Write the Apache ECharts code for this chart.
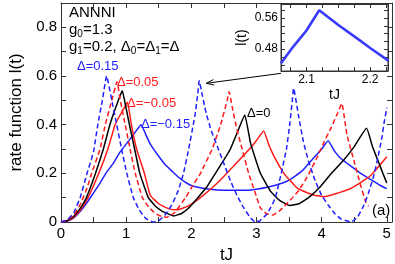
<!DOCTYPE html>
<html>
<head>
<meta charset="utf-8">
<script src="https://cdn.jsdelivr.net/npm/echarts@6/dist/echarts.min.js"></script>
<style>
html,body{margin:0;padding:0;background:#fff;}
#c{width:395px;height:264px;}
</style>
</head>
<body>
<div id="c"></div>
<script>
// ---- data ----
const xTicks = [0, 1, 2, 3, 4, 5];
const yTicks = [0, 0.2, 0.4, 0.6, 0.8];

// Delta = 0.15 (blue dashed)
const tBD = [0,0.1,0.2,0.3,0.4,0.5,0.565,0.635,0.70,0.78,0.855,0.93,1.01,1.11,1.2,1.3,1.42,1.5,1.6,1.7,1.8,1.88,1.96,2.03,2.06,2.08,2.1,2.12,2.16,2.2,2.23,2.3,2.4,2.5,2.6,2.7,2.8,2.9,2.98,3.05,3.15,3.22,3.29,3.38,3.46,3.51,3.55,3.57,3.65,3.72,3.8,3.9,4.0,4.1,4.2,4.3,4.45,4.55,4.65,4.72,4.8,4.86,4.92,4.96,5.0];
const vBD = [0,0.01,0.04,0.105,0.2,0.29,0.4,0.5,0.6,0.5,0.4,0.3,0.2,0.1,0.05,0.015,0,0.005,0.03,0.07,0.13,0.2,0.3,0.4,0.444,0.486,0.528,0.58,0.533,0.481,0.445,0.38,0.31,0.24,0.17,0.11,0.06,0.02,0,0.005,0.03,0.06,0.1,0.2,0.3,0.4,0.5,0.55,0.43,0.33,0.25,0.17,0.11,0.07,0.035,0.012,0,0.02,0.07,0.12,0.19,0.26,0.34,0.41,0.47];

// Delta = 0.05 (red dashed)
const tRD = [0,0.1,0.2,0.3,0.4,0.47,0.6,0.68,0.78,0.86,0.91,0.985,1.06,1.14,1.25,1.35,1.45,1.55,1.63,1.75,1.91,2.0,2.14,2.32,2.45,2.55,2.58,2.63,2.7,2.78,2.88,2.98,3.06,3.15,3.24,3.35,3.52,3.65,3.78,3.92,4.04,4.15,4.25,4.31,4.39,4.5,4.6,4.68,4.72];
const vRD = [0,0.008,0.03,0.075,0.14,0.2,0.3,0.4,0.5,0.576,0.5,0.4,0.3,0.2,0.1,0.06,0.035,0.022,0.02,0.04,0.1,0.14,0.2,0.3,0.4,0.5,0.535,0.47,0.38,0.3,0.2,0.12,0.058,0.035,0.028,0.045,0.09,0.13,0.186,0.26,0.33,0.39,0.45,0.487,0.357,0.248,0.15,0.08,0.065];

// Delta = 0 (black)
const tK = [0,0.1,0.2,0.3,0.39,0.53,0.65,0.75,0.88,0.94,0.975,1.05,1.13,1.21,1.34,1.45,1.55,1.63,1.73,1.85,1.98,2.1,2.24,2.37,2.5,2.6,2.7,2.82,2.91,3.06,3.22,3.35,3.51,3.65,3.8,3.98,4.15,4.34,4.5,4.69,4.78,4.86,4.94,5.0];
const vK = [0,0.006,0.025,0.058,0.1,0.2,0.3,0.4,0.5,0.539,0.5,0.4,0.3,0.2,0.1,0.065,0.045,0.035,0.025,0.035,0.063,0.1,0.145,0.2,0.255,0.3,0.364,0.44,0.323,0.2,0.125,0.09,0.068,0.075,0.1,0.145,0.2,0.255,0.31,0.385,0.31,0.255,0.2,0.16];

// Delta = -0.05 (red solid)
const tR = [0,0.1,0.2,0.3,0.415,0.58,0.72,0.83,0.93,1.02,1.08,1.16,1.28,1.37,1.5,1.65,1.78,1.95,2.14,2.4,2.65,2.91,3.0,3.11,3.2,3.27,3.42,3.63,3.88,4.04,4.2,4.45,4.75,5.0];
const vR = [0,0.005,0.02,0.05,0.1,0.2,0.3,0.4,0.45,0.492,0.4,0.3,0.2,0.11,0.075,0.055,0.05,0.065,0.1,0.16,0.23,0.305,0.335,0.374,0.31,0.27,0.2,0.138,0.11,0.104,0.115,0.138,0.19,0.268];

// Delta = -0.15 (blue solid)
const tB = [0,0.1,0.2,0.3,0.4,0.5,0.6,0.7,0.8,0.9,1.0,1.1,1.23,1.3,1.37,1.5,1.6,1.7,1.8,1.9,2.0,2.2,2.4,2.6,2.8,3.0,3.2,3.4,3.5,3.6,3.7,3.8,3.9,4.0,4.1,4.2,4.3,4.45,4.6,4.75,4.9,5.0];
const vB = [0,0.004,0.018,0.045,0.08,0.12,0.16,0.205,0.24,0.285,0.32,0.355,0.40,0.36,0.32,0.27,0.235,0.21,0.185,0.165,0.15,0.138,0.132,0.13,0.13,0.135,0.145,0.16,0.172,0.19,0.21,0.24,0.27,0.30,0.334,0.29,0.26,0.23,0.2,0.175,0.15,0.137];

// inset (zoom on the Delta = 0.15 cusp)
const tIn = [2.06,2.079,2.1,2.12,2.15,2.18,2.2,2.229];
const vIn = [0.444,0.486,0.528,0.58,0.542,0.507,0.483,0.45];
const inXTicks = [2.1, 2.2];
const inYTicks = [0.48, 0.56];

// ---- chart ----
const pair = (t, v) => t.map((x, i) => [x, v[i]]);
const FONT = 'Liberation Sans, Arial, Helvetica, sans-serif';
const AX = '#333';
const chart = echarts.init(document.getElementById('c'), null, {renderer: 'canvas'});

function range(a, b, s) { const r = []; for (let x = a; x <= b + 1e-9; x += s) r.push(+x.toFixed(4)); return r; }

const mainXMinor = range(0, 5, 0.5);
const mainYMinor = range(0, 0.9, 0.1);
const inXMinor = range(2.075, 2.225, 0.025);
const inYMinor = range(0.44, 0.58, 0.02);

const lineSeries = (data, color, dashed, name) => ({
  type: 'line', name, data, xAxisIndex: 0, yAxisIndex: 0,
  showSymbol: false, smooth: 0.12, z: 3,
  lineStyle: {color, width: 1.5, type: dashed ? [5, 3] : 'solid'},
  animation: false
});

const option = {
  animation: false,
  backgroundColor: '#fff',
  grid: [
    {left: 61, right: 3, top: 3, bottom: 42, show: false, outerBoundsMode: 'none', containLabel: false},
    {left: 281, width: 107, top: 4, height: 67, show: true, backgroundColor: '#fff', borderColor: AX, borderWidth: 1, z: 10, outerBoundsMode: 'none', containLabel: false}
  ],
  xAxis: [
    {gridIndex: 0, type: 'value', min: 0, max: 5.08, position: 'bottom',
     axisLine: {show: true, onZero: false, lineStyle: {color: AX, width: 1}},
     axisTick: {show: true, inside: true, length: 5, customValues: mainXMinor, lineStyle: {color: AX}},
     axisLabel: {customValues: xTicks, color: '#000', fontFamily: FONT, fontSize: 15, margin: 4, formatter: v => String(v)},
     splitLine: {show: false},
     name: 'tJ', nameLocation: 'middle', nameGap: 25, nameTextStyle: {color: '#000', fontFamily: FONT, fontSize: 17}},
    {gridIndex: 0, type: 'value', min: 0, max: 5.08, position: 'top',
     axisLine: {show: true, onZero: false, lineStyle: {color: AX, width: 1}},
     axisTick: {show: true, inside: true, length: 5, customValues: mainXMinor, lineStyle: {color: AX}},
     axisLabel: {show: false}, splitLine: {show: false}},
    {gridIndex: 1, type: 'value', min: 2.06, max: 2.228, position: 'bottom', z: 11,
     axisLine: {show: true, onZero: false, lineStyle: {color: AX, width: 1}},
     axisTick: {show: true, inside: true, length: 4, customValues: inXMinor, lineStyle: {color: AX}},
     axisLabel: {customValues: inXTicks, color: '#000', fontFamily: FONT, fontSize: 12, margin: 3, formatter: v => v.toFixed(1)},
     splitLine: {show: false},
     name: 'tJ', nameLocation: 'middle', nameGap: 17, nameTextStyle: {color: '#000', fontFamily: FONT, fontSize: 14}},
    {gridIndex: 1, type: 'value', min: 2.06, max: 2.228, position: 'top', z: 11,
     axisLine: {show: true, onZero: false, lineStyle: {color: AX, width: 1}},
     axisTick: {show: true, inside: true, length: 4, customValues: inXMinor, lineStyle: {color: AX}},
     axisLabel: {show: false}, splitLine: {show: false}}
  ],
  yAxis: [
    {gridIndex: 0, type: 'value', min: 0, max: 0.9, position: 'left',
     axisLine: {show: true, onZero: false, lineStyle: {color: AX, width: 1}},
     axisTick: {show: true, inside: true, length: 5, customValues: mainYMinor, lineStyle: {color: AX}},
     axisLabel: {customValues: yTicks, color: '#000', fontFamily: FONT, fontSize: 15, margin: 4, formatter: v => String(+v.toFixed(1))},
     splitLine: {show: false},
     name: 'rate function l(t)', nameLocation: 'middle', nameGap: 35, nameRotate: 90,
     nameTextStyle: {color: '#000', fontFamily: FONT, fontSize: 17}},
    {gridIndex: 0, type: 'value', min: 0, max: 0.9, position: 'right',
     axisLine: {show: true, onZero: false, lineStyle: {color: AX, width: 1}},
     axisTick: {show: true, inside: true, length: 5, customValues: mainYMinor, lineStyle: {color: AX}},
     axisLabel: {show: false}, splitLine: {show: false}},
    {gridIndex: 1, type: 'value', min: 0.424, max: 0.596, position: 'left', z: 11,
     axisLine: {show: true, onZero: false, lineStyle: {color: AX, width: 1}},
     axisTick: {show: true, inside: true, length: 4, customValues: inYMinor, lineStyle: {color: AX}},
     axisLabel: {customValues: inYTicks, color: '#000', fontFamily: FONT, fontSize: 12, margin: 3, formatter: v => v.toFixed(2)},
     splitLine: {show: false},
     name: 'l(t)', nameLocation: 'middle', nameGap: 32, nameRotate: 90,
     nameTextStyle: {color: '#000', fontFamily: FONT, fontSize: 14}},
    {gridIndex: 1, type: 'value', min: 0.424, max: 0.596, position: 'right', z: 11,
     axisLine: {show: true, onZero: false, lineStyle: {color: AX, width: 1}},
     axisTick: {show: true, inside: true, length: 4, customValues: inYMinor, lineStyle: {color: AX}},
     axisLabel: {show: false}, splitLine: {show: false}}
  ],
  series: [
    lineSeries(pair(tB, vB), '#1f1fff', false, 'Δ=-0.15'),
    lineSeries(pair(tR, vR), '#ff1a1a', false, 'Δ=-0.05'),
    lineSeries(pair(tK, vK), '#000000', false, 'Δ=0'),
    lineSeries(pair(tRD, vRD), '#ff1a1a', true, 'Δ=0.05'),
    lineSeries(pair(tBD, vBD), '#1f1fff', true, 'Δ=0.15'),
    {type: 'line', data: pair(tIn, vIn), xAxisIndex: 2, yAxisIndex: 2, z: 12,
     showSymbol: false, smooth: false, lineStyle: {color: '#3a3aff', width: 2.6}, animation: false}
  ]
};
chart.setOption(option);

// ---- annotations ----
const txt = (x, y, text, color, size, rich) => ({
  type: 'text', x, y, z: 20,
  style: {text, fill: color, font: size + 'px ' + FONT, rich: rich || {}, textVerticalAlign: 'middle'}
});
const sub = {s: {fontSize: 10, fill: '#000', fontFamily: FONT, verticalAlign: 'bottom', padding: [8, 0, 0, 0]}};
const tip = chart.convertToPixel({xAxisIndex: 0, yAxisIndex: 0}, [2.23, 0.57]);
const tail = chart.convertToPixel({xAxisIndex: 2, yAxisIndex: 2}, [2.06, 0.418]);
const ang = Math.atan2(tail[1] - tip[1], tail[0] - tip[0]);
const ah = 8, aw = 0.35;
chart.setOption({
  graphic: [
    txt(69, 13, 'ANNNI', '#000', 15),
    txt(69, 30, 'g{s|0}=1.3', '#000', 15, sub),
    txt(69, 47, 'g{s|1}=0.2, Δ{s|0}=Δ{s|1}=Δ', '#000', 15, sub),
    txt(77, 66, 'Δ=0.15', '#1f1fff', 13),
    txt(117, 82, 'Δ=0.05', '#ff1a1a', 13),
    txt(127, 103, 'Δ=−0.05', '#ff1a1a', 13),
    txt(141, 124, 'Δ=−0.15', '#1f1fff', 13),
    txt(247, 113, 'Δ=0', '#000', 13),
    txt(372, 211, '(a)', '#000', 15),
    {type: 'line', z: 20, shape: {x1: tail[0], y1: tail[1], x2: tip[0], y2: tip[1]}, style: {stroke: '#000', lineWidth: 1}},
    {type: 'polyline', z: 20, shape: {points: [
      [tip[0] + ah * Math.cos(ang + aw), tip[1] + ah * Math.sin(ang + aw)],
      [tip[0], tip[1]],
      [tip[0] + ah * Math.cos(ang - aw), tip[1] + ah * Math.sin(ang - aw)]
    ]}, style: {stroke: '#000', lineWidth: 1, fill: null}}
  ]
});
</script>
</body>
</html>
